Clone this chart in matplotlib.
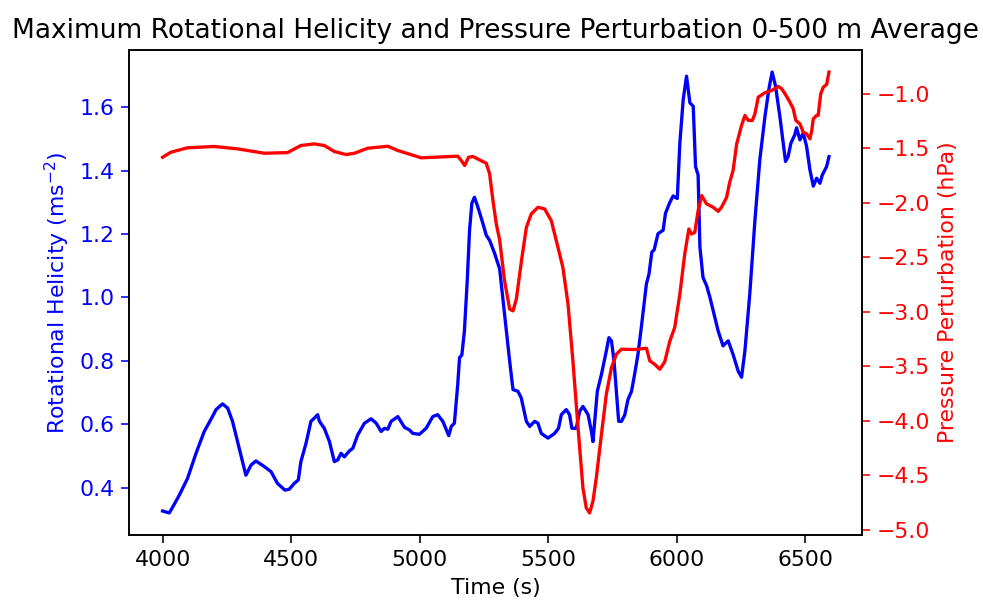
import matplotlib
matplotlib.use("Agg")
import matplotlib.pyplot as plt

# Maximum rotational helicity (0-500 m average)
helicity_time = [4000, 4026, 4039, 4065, 4097, 4130, 4162, 4194, 4208, 4233, 4253, 4272,
                 4298, 4324, 4344, 4363, 4396, 4422, 4447, 4476, 4493, 4512, 4528, 4538,
                 4558, 4577, 4590, 4603, 4610, 4629, 4649, 4668, 4681, 4694, 4707, 4727,
                 4740, 4759, 4785, 4811, 4831, 4850, 4863, 4876, 4889, 4915, 4941, 4960,
                 4973, 4999, 5025, 5051, 5070, 5090, 5113, 5123, 5135, 5148, 5155, 5164,
                 5174, 5185, 5194, 5203, 5213, 5226, 5246, 5259, 5272, 5291, 5311, 5330,
                 5350, 5363, 5382, 5395, 5415, 5428, 5447, 5460, 5473, 5499, 5525, 5540,
                 5551, 5570, 5583, 5592, 5609, 5622, 5635, 5655, 5668, 5674, 5681, 5691,
                 5707, 5726, 5736, 5746, 5756, 5765, 5774, 5785, 5798, 5810, 5824, 5836,
                 5849, 5862, 5882, 5892, 5903, 5912, 5927, 5947, 5956, 5973, 5986, 6002,
                 6012, 6025, 6038, 6051, 6064, 6073, 6083, 6090, 6102, 6116, 6129, 6148,
                 6161, 6180, 6200, 6219, 6239, 6252, 6265, 6284, 6304, 6323, 6343, 6358,
                 6371, 6384, 6401, 6414, 6423, 6433, 6444, 6459, 6466, 6479, 6492, 6505,
                 6518, 6531, 6544, 6557, 6566, 6576, 6583, 6592]
helicity = [0.326, 0.320, 0.338, 0.376, 0.429, 0.508, 0.577, 0.624, 0.646, 0.664, 0.651, 0.609,
            0.524, 0.439, 0.471, 0.484, 0.466, 0.450, 0.413, 0.392, 0.395, 0.413, 0.424, 0.482,
            0.540, 0.609, 0.619, 0.630, 0.609, 0.587, 0.545, 0.482, 0.487, 0.508, 0.497, 0.516,
            0.524, 0.566, 0.603, 0.617, 0.603, 0.577, 0.587, 0.584, 0.609, 0.624, 0.590, 0.582,
            0.571, 0.568, 0.587, 0.624, 0.630, 0.609, 0.564, 0.593, 0.603, 0.725, 0.810, 0.818,
            0.894, 1.053, 1.212, 1.297, 1.316, 1.286, 1.233, 1.196, 1.180, 1.140, 1.090, 0.947,
            0.799, 0.709, 0.704, 0.683, 0.609, 0.593, 0.609, 0.603, 0.571, 0.556, 0.571, 0.587,
            0.630, 0.646, 0.630, 0.587, 0.587, 0.640, 0.656, 0.630, 0.577, 0.545, 0.609, 0.704,
            0.757, 0.831, 0.873, 0.863, 0.799, 0.704, 0.609, 0.609, 0.630, 0.677, 0.704, 0.757,
            0.820, 0.905, 1.043, 1.074, 1.143, 1.150, 1.201, 1.212, 1.265, 1.300, 1.320, 1.312,
            1.487, 1.624, 1.698, 1.614, 1.603, 1.413, 1.386, 1.159, 1.063, 1.037, 1.000, 0.937,
            0.894, 0.847, 0.863, 0.820, 0.767, 0.748, 0.831, 1.011, 1.243, 1.434, 1.571, 1.656,
            1.711, 1.667, 1.571, 1.487, 1.429, 1.444, 1.487, 1.513, 1.535, 1.497, 1.519, 1.476,
            1.402, 1.351, 1.376, 1.360, 1.386, 1.402, 1.413, 1.444]

# Pressure perturbation (0-500 m average), hPa
pressure_time = [4000, 4032, 4097, 4201, 4292, 4396, 4486, 4538, 4590, 4629, 4668, 4714,
                 4746, 4798, 4876, 4915, 5006, 5148, 5162, 5175, 5190, 5207, 5233, 5259,
                 5272, 5285, 5298, 5311, 5330, 5350, 5363, 5376, 5396, 5415, 5434, 5460,
                 5486, 5512, 5538, 5557, 5577, 5596, 5616, 5635, 5648, 5661, 5674, 5687,
                 5707, 5726, 5746, 5765, 5785, 5837, 5882, 5895, 5914, 5934, 5953, 5973,
                 5992, 6012, 6031, 6047, 6057, 6070, 6083, 6097, 6116, 6142, 6161, 6174,
                 6194, 6206, 6219, 6233, 6252, 6265, 6278, 6294, 6304, 6317, 6343, 6369,
                 6395, 6408, 6421, 6440, 6453, 6463, 6479, 6492, 6505, 6518, 6525, 6531,
                 6544, 6550, 6560, 6570, 6583, 6592]
pressure = [-1.583, -1.537, -1.496, -1.484, -1.506, -1.546, -1.540, -1.475, -1.460, -1.475, -1.530, -1.558,
            -1.546, -1.500, -1.482, -1.521, -1.588, -1.573, -1.613, -1.659, -1.583, -1.576, -1.607, -1.638,
            -1.735, -1.981, -2.195, -2.340, -2.716, -2.976, -2.992, -2.884, -2.532, -2.226, -2.103, -2.042,
            -2.057, -2.165, -2.410, -2.594, -2.930, -3.451, -4.064, -4.616, -4.800, -4.846, -4.738, -4.524,
            -4.125, -3.757, -3.513, -3.390, -3.344, -3.347, -3.335, -3.451, -3.482, -3.528, -3.460, -3.270,
            -3.145, -2.838, -2.471, -2.241, -2.287, -2.272, -2.073, -1.935, -2.011, -2.042, -2.079, -2.042,
            -1.950, -1.812, -1.705, -1.460, -1.291, -1.199, -1.245, -1.245, -1.184, -1.031, -0.991, -0.970,
            -0.933, -0.954, -1.000, -1.077, -1.138, -1.245, -1.276, -1.353, -1.368, -1.414, -1.337, -1.230,
            -1.199, -1.199, -1.000, -0.939, -0.915, -0.801]

plt.rcParams["font.size"] = 11
plt.rcParams["axes.titlesize"] = 13.2
plt.rcParams["xtick.major.size"] = 3.8
plt.rcParams["ytick.major.size"] = 3.8

fig = plt.figure(figsize=(983 / 144, 606 / 144), dpi=144)
ax1 = fig.add_axes([0.1315, 0.1172, 0.7457, 0.8003])
ax1.plot(helicity_time, helicity, color="blue", linewidth=1.65)
ax1.set_xlabel("Time (s)")
ax1.set_ylabel("Rotational Helicity (ms$^{-2}$)", color="blue")
ax1.tick_params(axis="y", colors="blue")
ax1.set_xticks([4000, 4500, 5000, 5500, 6000, 6500])
ax1.set_yticks([0.4, 0.6, 0.8, 1.0, 1.2, 1.4, 1.6])

ax2 = ax1.twinx()
ax2.plot(pressure_time, pressure, color="red", linewidth=1.65)
ax2.set_ylabel("Pressure Perturbation (hPa)", color="red")
ax2.tick_params(axis="y", colors="red")
ax2.set_yticks([-5.0, -4.5, -4.0, -3.5, -3.0, -2.5, -2.0, -1.5, -1.0])

ax1.set_title("Maximum Rotational Helicity and Pressure Perturbation 0-500 m Average")

fig.savefig("out.png", dpi=144)
